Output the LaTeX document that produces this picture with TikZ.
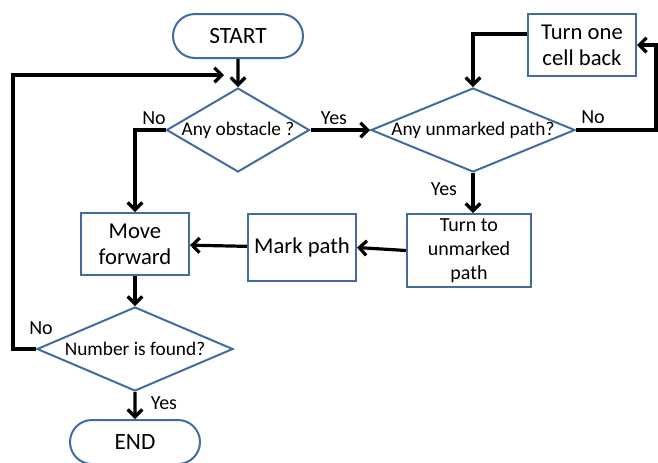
\documentclass[tikz,border=0pt]{standalone}
\usepackage{fontspec}
\setmainfont{Carlito}
\usepackage{tikz}
\usetikzlibrary{shapes.geometric,shapes.misc,arrows.meta}
\definecolor{boxblue}{RGB}{66,108,160}

\begin{document}
\begin{tikzpicture}[x=0.75pt, y=-0.75pt]
    \tikzstyle{term} = [rounded rectangle, draw=boxblue, line width=1.5pt, inner sep=0pt, minimum width=97.5pt, minimum height=33pt, font=\fontsize{17.5}{19}\selectfont]
    \tikzstyle{proc} = [rectangle, draw=boxblue, line width=1.5pt, inner sep=0pt, align=center, font=\fontsize{17}{19.5}\selectfont]
    \tikzstyle{decide} = [diamond, draw=boxblue, line width=1.5pt, inner sep=0pt, minimum height=63pt, label={[font=\fontsize{14.5}{16}\selectfont]center:#1}]
    \tikzstyle{flow} = [line width=2.4pt, -{Straight Barb[length=5.5pt,width=11pt]}]
    \tikzstyle{lbl} = [inner sep=0pt, font=\fontsize{15}{17}\selectfont]

    \useasboundingbox (0,0) rectangle (658,462);

    % Terminals
    \node[term] (start) at (238,36) {START};
    \node[term] (end) at (135,442) {END};

    % Decisions
    \node[decide={Any obstacle ?}, minimum width=107.25pt] (obst) at (238,130) {};
    \node[decide={Any unmarked path?}, minimum width=153pt] (unmk) at (473,130) {};
    \node[decide={Number is found?}, minimum width=147pt] (found) at (135,349) {};

    % Actions
    \node[proc, minimum width=81pt, minimum height=46.5pt] (back) at (582,45) {Turn one\\cell back};
    \node[proc, minimum width=93pt, minimum height=54.75pt, font=\fontsize{15}{18}\selectfont] (turn) at (469,250.5) {Turn to\\unmarked\\path};
    \node[proc, minimum width=81pt, minimum height=50.25pt] (mark) at (302,247.5) {Mark path};
    \node[proc, minimum width=81pt, minimum height=46.5pt] (move) at (135,244) {Move\\forward};

    \coordinate (join) at (224,75);

    % Connectors
    \draw[flow] (start) -- (obst);
    \draw[flow] (obst.west) -| (move.north);
    \draw[flow] (obst) -- (unmk);
    \draw[flow] (unmk.east) -- ++(80,0) |- (back.east);
    \draw[flow] ([yshift=8.25pt]back.west) -| (unmk.north);
    \draw[flow] (unmk.south) -- (unmk.south |- turn.north);
    \draw[flow] (turn.west) -- (mark.east);
    \draw[flow] (mark) -- (move);
    \draw[flow] (move) -- (found);
    \draw[flow] (found.west) -- ++(-23,0) |- (join);
    \draw[flow] (found) -- (end);

    % Branch labels
    \node[lbl] (no1) at (154,118) {No};
    \node[lbl] (yes1) at (334,118) {Yes};
    \node[lbl] (no2) at (593,117) {No};
    \node[lbl] (yes2) at (444,189) {Yes};
    \node[lbl] (no3) at (41,328) {No};
    \node[lbl] (yes3) at (164,403) {Yes};

\end{tikzpicture}
\end{document}
